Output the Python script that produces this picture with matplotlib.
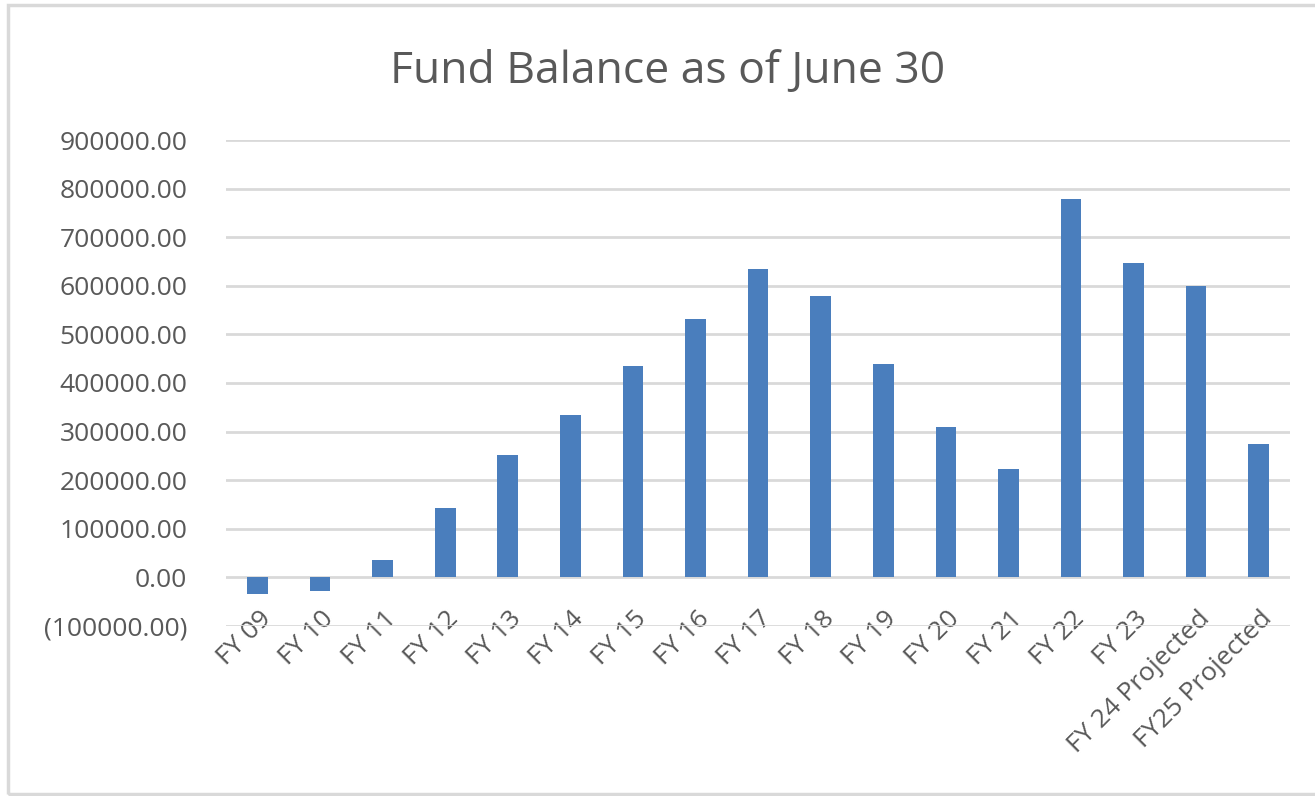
import matplotlib.pyplot as plt
from matplotlib.patches import Rectangle
from matplotlib.ticker import FuncFormatter, MultipleLocator
from matplotlib.transforms import ScaledTranslation

# Fund balance at fiscal year end (June 30)
years = ["FY 09", "FY 10", "FY 11", "FY 12", "FY 13", "FY 14", "FY 15", "FY 16",
         "FY 17", "FY 18", "FY 19", "FY 20", "FY 21", "FY 22", "FY 23",
         "FY 24 Projected", "FY25 Projected"]
balance = [-35000, -28000, 35000, 142000, 251000, 335000, 436000, 531000,
           634000, 580000, 440000, 309000, 222000, 778000, 647000,
           600000, 274000]

BAR_COLOR = "#4A7EBD"
GRID_COLOR = "#D9D9D9"
TEXT_COLOR = "#595959"

plt.rcParams["font.family"] = ["Open Sans", "DejaVu Sans"]

fig = plt.figure(figsize=(13.15, 7.96), dpi=100)
ax = fig.add_axes([0.172, 0.2136, 0.809, 0.6105])

x = range(len(years))
ax.bar(x, balance, width=0.33, color=BAR_COLOR, zorder=3)

ax.set_xlim(-0.5, len(years) - 0.5)
ax.set_ylim(-100000, 900000)
ax.yaxis.set_major_locator(MultipleLocator(100000))


def accounting(v, pos):
    if v < 0:
        return f"({abs(v):.2f})"
    return f"{v:.2f}"


ax.yaxis.set_major_formatter(FuncFormatter(accounting))
ax.grid(axis="y", color=GRID_COLOR, linewidth=2.0, zorder=0)
for s in ax.spines.values():
    s.set_visible(False)
ax.tick_params(axis="both", length=0, colors=TEXT_COLOR, labelsize=19)
ax.tick_params(axis="y", pad=28)

ax.set_xticks(list(x))
ax.set_xticklabels(years, rotation=45, ha="right", va="top",
                   rotation_mode="anchor", fontsize=19, color=TEXT_COLOR)
ax.tick_params(axis="x", pad=0)
# category labels sit up against the bottom gridline
shift = ScaledTranslation(1 / 100, 20 / 100, fig.dpi_scale_trans)
for lbl in ax.get_xticklabels():
    lbl.set_transform(lbl.get_transform() + shift)

fig.text(0.508, 0.91, "Fund Balance as of June 30", ha="center", va="center",
         fontsize=32, color=TEXT_COLOR)

# chart frame
fig.patches.append(Rectangle((8 / 1315, 2 / 796), 1.1, 789 / 796,
                             transform=fig.transFigure, fill=False,
                             edgecolor=GRID_COLOR, linewidth=2.5))

fig.savefig("out.png", dpi=100, facecolor="white")
